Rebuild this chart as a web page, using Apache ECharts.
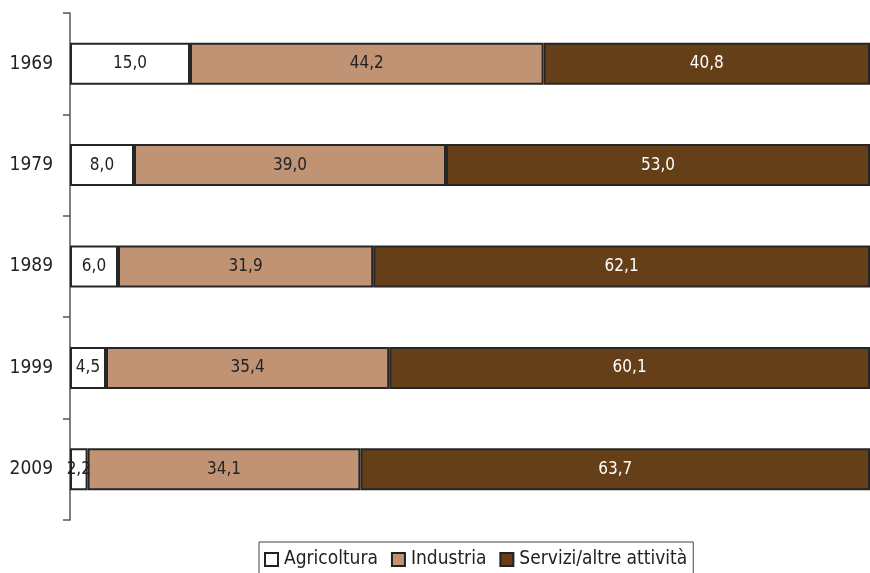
<!DOCTYPE html>
<html><head><meta charset="utf-8">
<script src="https://cdn.jsdelivr.net/npm/echarts@6/dist/echarts.min.js"></script>
<style>html,body{margin:0;padding:0;background:#fff}#c{width:870px;height:573px}</style>
</head><body><div id="c"></div>
<script>
const years = ['1969','1979','1989','1999','2009'];
const agricoltura = [15.0, 8.0, 6.0, 4.5, 2.2];
const industria = [44.2, 39.0, 31.9, 35.4, 34.1];
const servizi = [40.8, 53.0, 62.1, 60.1, 63.7];
const seriesNames = ['Agricoltura', 'Industria', 'Servizi/altre attività'];

const FONT = '"DejaVu Sans Condensed", "Liberation Sans Narrow", "Liberation Sans", sans-serif';
const fmt = v => v.toFixed(1).replace('.', ',');
const colors = ['#ffffff', '#bf9374', '#653f17'];
const labelColors = ['#222', '#222', '#ffffff'];
const datas = [agricoltura, industria, servizi];

const chart = echarts.init(document.getElementById('c'));
chart.setOption({
  animation: false,
  textStyle: { fontFamily: FONT },
  grid: { left: 70, right: -5, top: 13, bottom: 53 },
  xAxis: { type: 'value', min: 0, max: 100, show: false },
  yAxis: {
    type: 'category', data: years, inverse: true,
    axisLine: { show: true, lineStyle: { color: '#555', width: 1.5 } },
    axisTick: { show: true, length: 7, lineStyle: { color: '#555', width: 1.5 } },
    axisLabel: { fontSize: 19, color: '#222', margin: 17, fontFamily: FONT }
  },
  legend: {
    bottom: -14, left: 259, icon: 'rect',
    itemWidth: 13, itemHeight: 13, itemGap: 13,
    padding: [8, 6, 18, 5],
    borderColor: '#444', borderWidth: 1,
    textStyle: { fontSize: 19, color: '#222', fontFamily: FONT, padding: [0, 0, 0, 1] },
    data: seriesNames.map((n, i) => ({ name: n, itemStyle: { color: colors[i], borderColor: '#222', borderWidth: 2 } }))
  },
  series: datas.map((d, i) => ({
    name: seriesNames[i], type: 'bar', stack: 'tot', data: d,
    barWidth: 42,
    itemStyle: { color: colors[i], borderColor: '#262626', borderWidth: 2 },
    label: { show: true, position: 'inside', formatter: p => fmt(p.value), color: labelColors[i], fontSize: 17, fontFamily: FONT }
  }))
});
</script></body></html>
